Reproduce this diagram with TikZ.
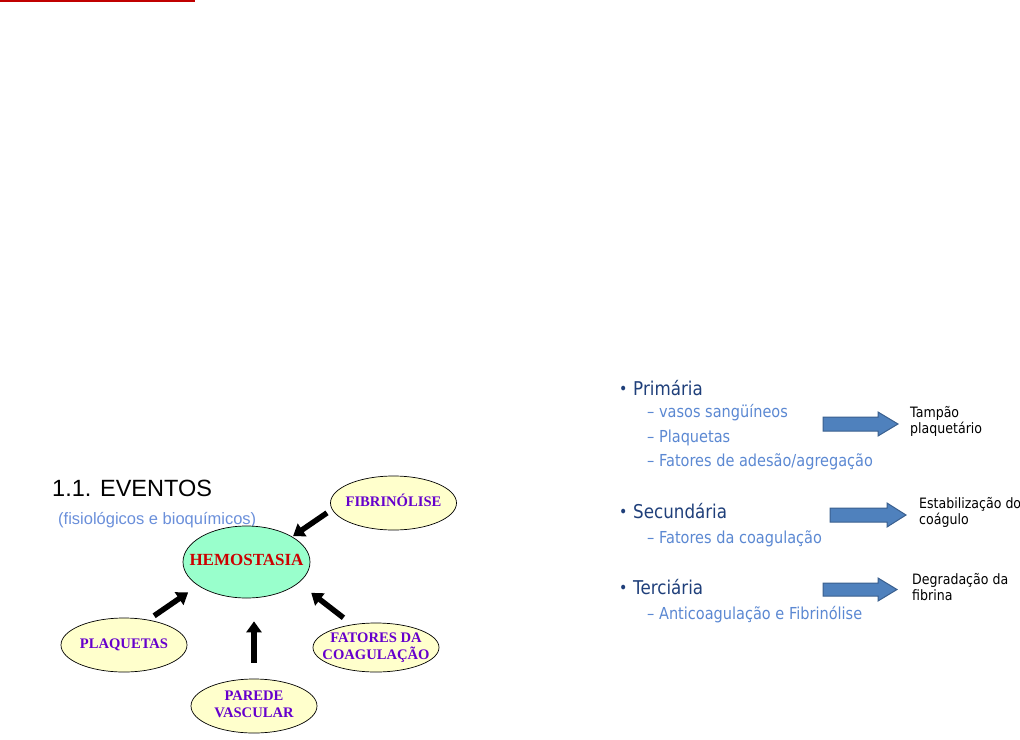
\documentclass[tikz,border=0pt]{standalone}
\usepackage{fontspec}
\setmainfont{Liberation Serif}
\newfontfamily\arialfont{Liberation Sans}
\newfontfamily\tahomafont[FakeStretch=0.88]{DejaVu Sans}
\usetikzlibrary{arrows.meta,shapes.geometric}

\definecolor{linhavermelha}{HTML}{C00000}
\definecolor{verdeagua}{HTML}{99FFCC}
\definecolor{amarelo}{HTML}{FFFFCC}
\definecolor{roxo}{HTML}{6600CC}
\definecolor{vermelho}{HTML}{CC0000}
\definecolor{subazul}{HTML}{6A8FDA}
\definecolor{azulescuro}{HTML}{1F3F7A}
\definecolor{azulclaro}{HTML}{5B88D2}
\definecolor{azulseta}{HTML}{4F81BD}
\definecolor{bordaseta}{HTML}{3A5F8E}

% texto centrado que pode sair da elipse
\newcommand{\dentro}[1]{\makebox[0pt]{\begin{tabular}{@{}c@{}}#1\end{tabular}}}
\newcommand{\duaslinhas}[2]{\begin{tabular}[t]{@{}l@{}}#1\\#2\end{tabular}}
\newcommand{\bolinha}{\makebox[14pt][l]{\fontsize{16}{16}\selectfont\raisebox{1pt}{•}}}

\begin{document}
\begin{tikzpicture}[x=1pt,y=-1pt,
    evento/.style={ellipse,draw,line width=0.7pt,fill=amarelo,inner sep=0pt,
        text=roxo,font=\bfseries\fontsize{14.6}{17}\selectfont,
        minimum width=126pt,minimum height=54pt},
    seta/.style={line width=5.5pt,-{Triangle[length=11pt,width=15pt]}},
    setaazul/.style={fill=azulseta,draw=bordaseta,line width=1pt},
    nivel/.style={anchor=base west,inner sep=0pt,text=azulescuro,
        font=\tahomafont\fontsize{19}{19}\selectfont},
    item/.style={anchor=base west,inner sep=0pt,text=azulclaro,
        font=\tahomafont\fontsize{16.5}{16.5}\selectfont},
    legenda/.style={anchor=base west,inner sep=0pt,
        font=\tahomafont\fontsize{14.3}{16.5}\selectfont}]
\useasboundingbox (0,0) rectangle (1020,739);

% linha do topo
\fill[linhavermelha] (0,0) rectangle (195,2);

% lado esquerdo
\node[anchor=base west,inner sep=0pt,font=\arialfont\fontsize{23.5}{23.5}\selectfont] (titulo) at (52,496) {1.1. EVENTOS};
\node[anchor=base west,inner sep=0pt,text=subazul,font=\arialfont\fontsize{16.5}{16.5}\selectfont] (subtitulo) at (58,524) {(fisiológicos e bioquímicos)};

\node[evento,fill=verdeagua,text=vermelho,font=\bfseries\fontsize{17}{17}\selectfont,
      minimum width=127pt,minimum height=72pt] (hemo) at (246.5,562) {\dentro{HEMOSTASIA}};
\node[evento] (fib) at (393.5,503) {\dentro{FIBRINÓLISE}};
\node[evento] (plaq) at (124,645) {\dentro{PLAQUETAS}};
\node[evento] (pared) at (254,706) {\dentro{PAREDE\\VASCULAR}};
\node[evento,minimum height=49pt] (fat) at (376,647.5) {\dentro{FATORES DA\\COAGULAÇÃO}};

\draw[seta,shorten <=6pt,shorten >=1pt] (fib.186) -- (hemo.29);
\draw[seta,shorten <=7pt,shorten >=12pt] (plaq.46) -- (hemo.206);
\draw[seta,shorten <=11pt,shorten >=16pt] (fat.136) -- (hemo.338);
\draw[seta,shorten <=16pt,shorten >=23pt] (pared.north) -- (pared.north |- hemo.south);

% lado direito
\node[nivel] (prim) at (619,395) {\bolinha Primária};
\node[item] (vasos) at (647,417) {– vasos sangüíneos};
\node[item] (plaqi) at (647,442) {– Plaquetas};
\node[item] (adesao) at (647,466) {– Fatores de adesão/agregação};

\node[nivel] (sec) at (619,518) {\bolinha Secundária};
\node[item] (coag) at (647,543) {– Fatores da coagulação};

\node[nivel] (ter) at (619,594) {\bolinha Terciária};
\node[item] (anti) at (647,619) {– Anticoagulação e Fibrinólise};

\draw[setaazul] (823,417) -- ++(55,0) -- ++(0,-5) -- ++(20,12) -- ++(-20,12) -- ++(0,-5) -- ++(-55,0) -- cycle;
\draw[setaazul] (830,508) -- ++(57,0) -- ++(0,-5) -- ++(19,12) -- ++(-19,12) -- ++(0,-5) -- ++(-57,0) -- cycle;
\draw[setaazul] (823,583) -- ++(55,0) -- ++(0,-5) -- ++(19,11.5) -- ++(-19,11.5) -- ++(0,-5) -- ++(-55,0) -- cycle;

\node[legenda] (tampao) at (910,417) {\duaslinhas{Tampão}{plaquetário}};
\node[legenda] (estab) at (919,508) {\duaslinhas{Estabilização do}{coágulo}};
\node[legenda] (degr) at (912,584) {\duaslinhas{Degradação da}{fibrina}};
\end{tikzpicture}
\end{document}
